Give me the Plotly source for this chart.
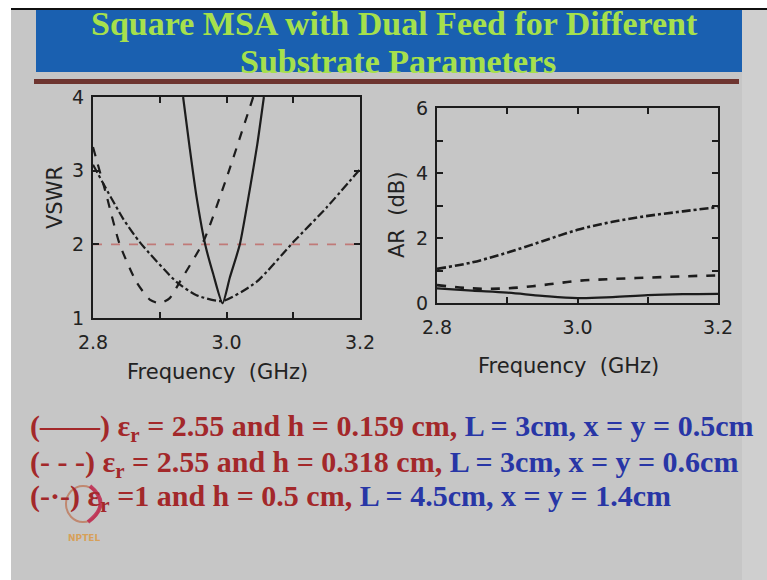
import plotly.graph_objects as go

W, H = 767, 580

# ---------------- data ----------------
vswr_solid_f = [2.935, 2.945, 2.955, 2.968, 2.98, 2.994, 3.005, 3.02, 3.035, 3.046, 3.056]
vswr_solid = [4.0, 3.3, 2.65, 2.0, 1.6, 1.2, 1.55, 2.0, 2.75, 3.35, 4.0]

vswr_dash_f = [2.80, 2.82, 2.84, 2.865, 2.885, 2.90, 2.915, 2.93, 2.965, 3.0, 3.04]
vswr_dash = [3.32, 2.67, 2.0, 1.49, 1.25, 1.2, 1.27, 1.49, 2.03, 2.9, 4.0]

vswr_dd_f = [2.80, 2.845, 2.87, 2.925, 2.955, 2.994, 3.045, 3.10, 3.15, 3.20]
vswr_dd = [3.08, 2.35, 2.03, 1.49, 1.31, 1.23, 1.49, 2.03, 2.5, 3.02]

vswr_ref_f = [2.8, 3.2]
vswr_ref = [2.0, 2.0]

ar_f = [2.8, 2.85, 2.9, 2.95, 3.0, 3.05, 3.1, 3.15, 3.2]
ar_dd = [1.05, 1.25, 1.55, 1.9, 2.25, 2.5, 2.68, 2.82, 2.95]
ar_dash = [0.55, 0.45, 0.45, 0.55, 0.68, 0.74, 0.78, 0.82, 0.85]
ar_solid = [0.45, 0.38, 0.32, 0.22, 0.15, 0.18, 0.24, 0.27, 0.28]

freq_ticks = [2.8, 3.0, 3.2]
freq_labels = ["2.8", "3.0", "3.2"]
freq_minor = [2.9, 3.1]
vswr_ticks = [1, 2, 3, 4]
vswr_labels = ["1", "2", "3", "4"]
ar_ticks = [0, 2, 4, 6]
ar_labels = ["0", "2", "4", "6"]
ar_minor = [1, 3, 5]

title_lines = ["Square MSA with Dual Feed for Different", "Substrate Parameters"]
legend_red = ["(——) ε<sub>r</sub> = 2.55 and h = 0.159 cm, ",
              "(- - -) ε<sub>r</sub> = 2.55 and h = 0.318 cm, ",
              "(-·-) ε<sub>r</sub> =1 and h = 0.5 cm, "]
legend_blue = ["L = 3cm, x = y = 0.5cm",
               "L = 3cm, x = y = 0.6cm",
               "L = 4.5cm, x = y = 1.4cm"]

# ---------------- helpers ----------------
def px(x):
    return x / W

def py(y):
    return 1 - y / H

INK = "#1c1c1c"
BG = "#c6c6c6"

fig = go.Figure()

line_w = 2.2
fig.add_trace(go.Scatter(x=vswr_ref_f, y=vswr_ref, mode="lines",
                         line=dict(color="#c07a78", width=1.6, dash="dash"),
                         xaxis="x", yaxis="y", showlegend=False))
fig.add_trace(go.Scatter(x=vswr_solid_f, y=vswr_solid, mode="lines",
                         line=dict(color=INK, width=line_w, shape="spline", smoothing=0.6),
                         xaxis="x", yaxis="y", showlegend=False))
fig.add_trace(go.Scatter(x=vswr_dash_f, y=vswr_dash, mode="lines",
                         line=dict(color=INK, width=line_w, dash="dash", shape="spline", smoothing=0.6),
                         xaxis="x", yaxis="y", showlegend=False))
fig.add_trace(go.Scatter(x=vswr_dd_f, y=vswr_dd, mode="lines",
                         line=dict(color=INK, width=line_w, dash="dashdot", shape="spline", smoothing=0.6),
                         xaxis="x", yaxis="y", showlegend=False))

fig.add_trace(go.Scatter(x=ar_f, y=ar_dd, mode="lines",
                         line=dict(color=INK, width=line_w + 0.4, dash="dashdot", shape="spline"),
                         xaxis="x2", yaxis="y2", showlegend=False))
fig.add_trace(go.Scatter(x=ar_f, y=ar_dash, mode="lines",
                         line=dict(color=INK, width=line_w + 0.4, dash="dash", shape="spline"),
                         xaxis="x2", yaxis="y2", showlegend=False))
fig.add_trace(go.Scatter(x=ar_f, y=ar_solid, mode="lines",
                         line=dict(color=INK, width=line_w, shape="spline"),
                         xaxis="x2", yaxis="y2", showlegend=False))

tickfont = dict(family="DejaVu Sans", size=19, color="#222222")
axis_common = dict(showline=True, mirror="ticks", linecolor=INK, linewidth=2,
                   ticks="inside", ticklen=6, tickwidth=2, tickcolor=INK,
                   showgrid=False, zeroline=False, tickfont=tickfont, automargin=False)
minor_common = dict(ticks="inside", ticklen=6, tickwidth=2, tickcolor=INK, showgrid=False)

fig.update_layout(
    width=W, height=H, autosize=False,
    margin=dict(l=0, r=0, t=0, b=0, pad=0),
    paper_bgcolor=BG, plot_bgcolor="rgba(0,0,0,0)",
    xaxis=dict(domain=[px(93), px(360)], range=[2.8, 3.2], anchor="y",
               tickvals=freq_ticks, ticktext=freq_labels, ticklabelstandoff=6,
               minor=dict(tickvals=freq_minor, **minor_common), **axis_common),
    yaxis=dict(domain=[py(318), py(97)], range=[1, 4], anchor="x",
               tickvals=vswr_ticks, ticktext=vswr_labels, ticklabelstandoff=3,
               **axis_common),
    xaxis2=dict(domain=[px(437), px(718)], range=[2.8, 3.2], anchor="y2",
                tickvals=freq_ticks, ticktext=freq_labels, ticklabelstandoff=6,
                minor=dict(tickvals=freq_minor, **minor_common), **axis_common),
    yaxis2=dict(domain=[py(303), py(108)], range=[0, 6], anchor="x2",
                tickvals=ar_ticks, ticktext=ar_labels, ticklabelstandoff=3,
                minor=dict(tickvals=ar_minor, **minor_common), **axis_common),
)

shapes = [
    # white margins and black top line
    dict(type="rect", xref="paper", yref="paper", x0=0, x1=1, y0=py(8), y1=1,
         fillcolor="white", line_width=0, layer="below"),
    dict(type="rect", xref="paper", yref="paper", x0=0, x1=px(11), y0=0, y1=1,
         fillcolor="white", line_width=0, layer="below"),
    dict(type="rect", xref="paper", yref="paper", x0=px(11), x1=1, y0=py(10), y1=py(8),
         fillcolor="#101010", line_width=0, layer="below"),
    dict(type="rect", xref="paper", yref="paper", x0=px(742), x1=1, y0=0, y1=py(10),
         fillcolor="#cfcfcf", line_width=0, layer="below"),
    # banner
    dict(type="rect", xref="paper", yref="paper", x0=px(36), x1=px(742), y0=py(72), y1=py(10),
         fillcolor="#1a60b0", line_width=0, layer="below"),
    # brown rule
    dict(type="rect", xref="paper", yref="paper", x0=px(34), x1=px(739), y0=py(84), y1=py(79),
         fillcolor="#6e3530", line_width=0, layer="below"),
    # logo ring
    dict(type="circle", xref="paper", yref="paper", x0=px(66), x1=px(100), y0=py(522), y1=py(486),
         line=dict(color="rgba(190,120,90,0.8)", width=2), fillcolor="rgba(0,0,0,0)"),
    dict(type="path", xref="paper", yref="paper",
         path=f"M {px(90)} {py(486)} Q {px(112)} {py(504)} {px(88)} {py(522)}",
         line=dict(color="rgba(190,40,80,0.85)", width=4)),
]
fig.update_layout(shapes=shapes)

ann = []
title_font = dict(family="Liberation Serif", size=34, color="#a6e04c")
ann.append(dict(text="<b>" + title_lines[0] + "</b>", x=px(394), y=py(24), xref="paper", yref="paper",
                showarrow=False, font=title_font, xanchor="center", yanchor="middle"))
ann.append(dict(text="<b>" + title_lines[1] + "</b>", x=px(398), y=py(62), xref="paper", yref="paper",
                showarrow=False, font=title_font, xanchor="center", yanchor="middle"))

label_font = dict(family="DejaVu Sans", size=21, color="#222222")
ann.append(dict(text="Frequency  (GHz)", x=px(217), y=py(372), xref="paper", yref="paper",
                showarrow=False, font=label_font, xanchor="center", yanchor="middle"))
ann.append(dict(text="Frequency  (GHz)", x=px(568), y=py(366), xref="paper", yref="paper",
                showarrow=False, font=label_font, xanchor="center", yanchor="middle"))
ann.append(dict(text="VSWR", x=px(55), y=py(198), xref="paper", yref="paper", textangle=-90,
                showarrow=False, font=label_font, xanchor="center", yanchor="middle"))
ann.append(dict(text="AR  (dB)", x=px(397), y=py(215), xref="paper", yref="paper", textangle=-90,
                showarrow=False, font=label_font, xanchor="center", yanchor="middle"))

leg_y = [428, 464, 498]
for i in range(3):
    txt = ("<b><span style='color:#a3282a'>" + legend_red[i] + "</span>"
           "<span style='color:#2836a6'>" + legend_blue[i] + "</span></b>")
    ann.append(dict(text=txt, x=px(28), y=py(leg_y[i]), xref="paper", yref="paper",
                    showarrow=False, font=dict(family="Liberation Serif", size=30),
                    xanchor="left", yanchor="middle", align="left"))

ann.append(dict(text="<b>NPTEL</b>", x=px(84), y=py(538), xref="paper", yref="paper",
                showarrow=False, font=dict(family="DejaVu Sans", size=9, color="rgba(220,150,60,0.8)"),
                xanchor="center", yanchor="middle"))

fig.update_layout(annotations=ann)

fig.write_html("out.html", config={"displayModeBar": False},
               post_script="document.body.style.margin='0';document.body.style.overflow='hidden';")
